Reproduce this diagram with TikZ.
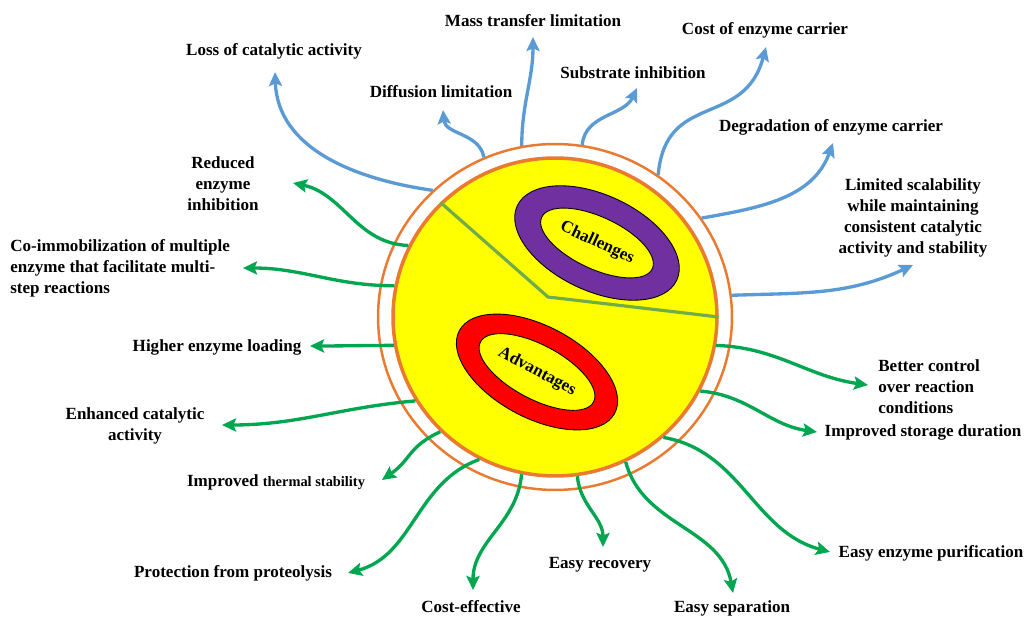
\documentclass[tikz,border=0pt]{standalone}
\usepackage{fontspec}
\setmainfont{Liberation Serif}
\usetikzlibrary{arrows.meta,shapes.geometric}
\definecolor{conblue}{HTML}{5B9BD5}
\definecolor{progreen}{HTML}{00A650}
\definecolor{ringorange}{HTML}{E97A2F}
\definecolor{splitgreen}{HTML}{70AD47}
\definecolor{chalpurple}{HTML}{7030A0}
\definecolor{coreyellow}{HTML}{FFFF00}
\tikzset{lbl/.style={font=\bfseries\fontsize{9.7}{12}\selectfont,inner sep=0pt,align=center},
  con/.style={draw=conblue,line width=1.9pt,-{Stealth[length=8pt,width=7.5pt,inset=1.5pt]}},
  pro/.style={draw=progreen,line width=1.9pt,-{Stealth[length=8pt,width=7.5pt,inset=1.5pt]}},
  band/.style={ellipse,draw=black,line width=.5pt,inner sep=0pt}}

\begin{document}
\begin{tikzpicture}[x=0.02cm,y=0.02cm]
\useasboundingbox (0,0) rectangle (1025,618);
\node[ellipse,draw=ringorange,line width=1.4pt,minimum width=7.08cm,minimum height=6.92cm,inner sep=0pt] (shell) at (555,301) {};
\node[ellipse,draw=ringorange,fill=coreyellow,line width=2pt,minimum width=6.48cm,minimum height=6.36cm,inner sep=0pt] (core) at (555,301) {};
\coordinate (split) at (548,321);
\draw[splitgreen,line width=1.8pt] (core.135) -- (split) -- (core.0);
\node[band,fill=chalpurple,minimum width=3.52cm,minimum height=1.92cm,rotate=-25] (chalband) at (597,375) {};
\node[band,fill=coreyellow,minimum width=2.44cm,minimum height=1.04cm,rotate=-25,lbl] (chal) at (597,375) {Challenges};
\node[band,fill=red,minimum width=3.52cm,minimum height=1.84cm,rotate=-28] (advband) at (537,246) {};
\node[band,fill=coreyellow,minimum width=2.56cm,minimum height=1.08cm,rotate=-28,lbl] (adv) at (537,246) {Advantages};

\node[lbl] (mass) at (533,597) {Mass transfer limitation};
\node[lbl] (loss) at (274,567) {Loss of catalytic activity};
\node[lbl] (diff) at (441,526) {Diffusion limitation};
\node[lbl] (subs) at (633,545) {Substrate inhibition};
\node[lbl] (cost) at (765,588) {Cost of enzyme carrier};
\node[lbl] (degr) at (831,491) {Degradation of enzyme carrier};
\node[lbl] (scale) at (913,400) {Limited scalability\\while maintaining\\consistent catalytic\\activity and stability};
\node[lbl] (reduce) at (223,434) {Reduced\\enzyme\\inhibition};
\node[lbl,anchor=west,align=left] (coimm) at (10,350) {Co-immobilization of multiple\\enzyme that facilitate multi-\\step reactions};
\node[lbl] (load) at (217,271) {Higher enzyme loading};
\node[lbl] (enhance) at (135,192) {Enhanced catalytic\\activity};
\node[lbl] (thermal) at (276,136) {Improved {\fontsize{8.2}{10}\selectfont thermal stability}};
\node[lbl] (prot) at (233,45) {Protection from proteolysis};
\node[lbl] (costeff) at (471,11) {Cost-effective};
\node[lbl] (recover) at (600,53) {Easy recovery};
\node[lbl] (separate) at (732,10) {Easy separation};
\node[lbl] (purify) at (931,65) {Easy enzyme purification};
\node[lbl] (store) at (923,186) {Improved storage duration};
\node[lbl,anchor=west,align=left] (control) at (878,231) {Better control\\over reaction\\conditions};

\foreach \name/\x/\y in {loss/275/546,diff/443/508,mass/533/581,subs/637/530,cost/766/571,
  degr/833/475,scale/913/353,reduce/293/435,coimm/243/350,load/310/272,enhance/222/193,
  thermal/382/138,prot/348/45,costeff/473/28,recover/603/71,separate/733/25,purify/830/66,
  store/817/186,control/868/233}
  \coordinate (t-\name) at (\x,\y);

\foreach \a/\tip/\o/\i/\l in {134/loss/172/-88/1, 114/diff/100/-85/1, 101/mass/90/-90/1,
  81/subs/85/-115/1, 54/cost/85/-105/1.3, 34/degr/10/-110/1, 7/scale/2/-155/1}
  \draw[con] (shell.\a) to[out=\o,in=\i,looseness=\l] (t-\tip);
\foreach \a/\tip/\o/\i/\l in {154/reduce/178/-12/1, 169/coimm/180/0/1, 190/load/180/0/1,
  211/enhance/185/0/1, 225/thermal/205/35/1.2, 242/prot/200/15/1, 258/costeff/265/90/1,
  278/recover/275/90/1, 296/separate/285/100/1, 312/purify/-10/165/1, 333/store/-5/172/1,
  350/control/-2/172/1}
  \draw[pro] (core.\a) to[out=\o,in=\i,looseness=\l] (t-\tip);
\end{tikzpicture}
\end{document}
